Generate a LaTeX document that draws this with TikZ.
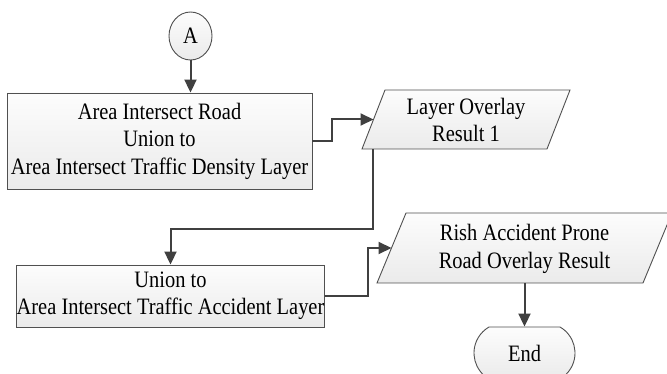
\documentclass[tikz,border=0pt]{standalone}
\usepackage{fontspec}
\newfontfamily\tfont[FakeStretch=0.87]{Liberation Serif}
\usetikzlibrary{arrows.meta,shapes.geometric,shapes.misc}
\definecolor{edgec}{HTML}{505050}
\definecolor{linec}{HTML}{404040}
\tikzset{
  every node/.style={font=\tfont\fontsize{23.5}{27.5}\selectfont, align=center, inner sep=0pt},
  shapefill/.style={draw=edgec, line width=0.9pt, top color=gray!2, bottom color=gray!16},
  procbox/.style={shapefill, rectangle},
  txt/.style={draw=none},
  conn/.style={draw=linec, line width=2pt, -{Triangle[length=13pt,width=12pt]}}
}
\begin{document}
\begin{tikzpicture}[x=1pt,y=-1pt]
\fill[white] (0,0) rectangle (667,374);
\useasboundingbox (0,0) rectangle (667,374);
\clip (0,0) rectangle (667,374);

% start connector
\node[shapefill, ellipse, minimum width=43pt, minimum height=48pt] (A) at (190.5,36) {A};

% box 1
\node[procbox, minimum width=305pt, minimum height=96pt] (box1) at (159.5,141)
  {Area Intersect Road\\Union to\\Area Intersect Traffic Density Layer};

% parallelogram 1
\path[shapefill] (362,149) -- (385,90) -- (570,90) -- (547,149) -- cycle;
\node[txt] (para1) at (466,120) {Layer Overlay\\Result 1};
\coordinate (p1w) at (373.5,119.5);
\coordinate (p1s) at (373,149);

% box 2
\node[procbox, minimum width=305pt, minimum height=62pt] (box2) at (170.5,296)
  {Union to\\Area Intersect Traffic Accident Layer};

% parallelogram 2
\path[shapefill] (377,283) -- (406,213) -- (672,213) -- (643,283) -- cycle;
\node[txt] (para2) at (524.5,249) {Rish Accident Prone\\Road Overlay Result};
\coordinate (p2w) at (391.5,248);
\coordinate (p2s) at (524.5,283);

% end terminator
\node[shapefill, rounded rectangle, rounded rectangle arc length=120, minimum width=101pt, minimum height=52pt] (endn) at (524.5,353) {End};

% connectors
\draw[conn] (A.south) -- (A.south |- box1.north);
\draw[conn] (box1.east) -- ++(20,0) |- (p1w);
\draw[conn] (p1s) -- ++(0,80) -| (box2.north);
\draw[conn] (box2.east) -- ++(43,0) |- (p2w);
\draw[conn] (p2s) -- (endn.north);
\end{tikzpicture}
\end{document}
